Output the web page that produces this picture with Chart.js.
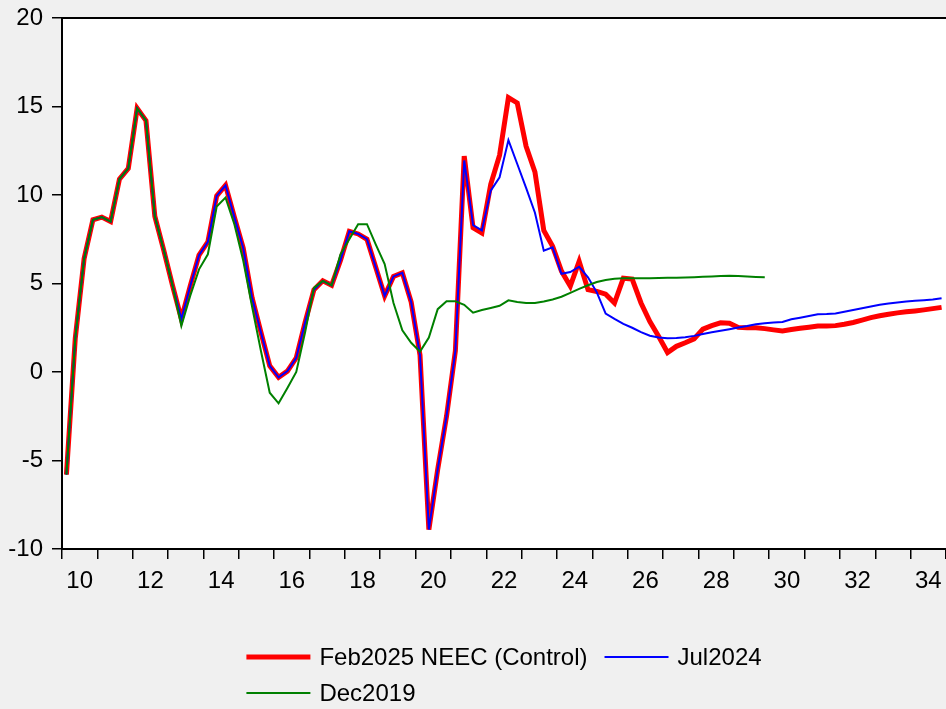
<!DOCTYPE html>
<html>
<script src="https://cdn.jsdelivr.net/npm/chart.js@4.4.0/dist/chart.umd.min.js"></script>
<body style="margin:0;background:#f0f0f0">
<canvas id="myChart" width="946" height="709"></canvas>

<script>
// quarterly periods 2010Q1 .. 2034Q4
const periods = [];
for (let y = 2010; y <= 2034; y++) {
  for (let q = 1; q <= 4; q++) periods.push(y + "Q" + q);
}

const seriesNames = ["Feb2025 NEEC (Control)", "Jul2024", "Dec2019"];

const feb2025 = [
  -5.8, 1.9, 6.4, 8.6, 8.75, 8.5, 10.9, 11.5, 14.9, 14.2,
  8.8, 6.9, 4.9, 3.0, 4.85, 6.6, 7.35, 9.95, 10.55, 8.75,
  7.0, 4.2, 2.25, 0.35, -0.3, 0.05, 0.8, 2.8, 4.65, 5.15,
  4.9, 6.3, 7.95, 7.8, 7.5, 5.9, 4.3, 5.4, 5.6, 3.95,
  0.95, -8.9, -5.5, -2.5, 1.2, 12.2, 8.15, 7.85, 10.6, 12.25,
  15.5, 15.2, 12.75, 11.3, 8.0, 7.1, 5.7, 4.85, 6.25, 4.65,
  4.55, 4.4, 3.9, 5.3, 5.25, 3.9, 2.85, 2.0, 1.1, 1.45,
  1.65, 1.87, 2.42, 2.62, 2.78, 2.76, 2.52, 2.5, 2.5, 2.45,
  2.38, 2.32, 2.4, 2.47, 2.53, 2.6, 2.6, 2.62, 2.7, 2.8,
  2.93, 3.07, 3.18, 3.26, 3.34, 3.4, 3.45, 3.51, 3.58, 3.65
];

const jul2024 = [
  -5.8, 1.9, 6.4, 8.6, 8.75, 8.5, 10.9, 11.5, 14.9, 14.2,
  8.8, 6.9, 4.9, 3.0, 4.85, 6.6, 7.35, 9.95, 10.55, 8.75,
  7.0, 4.2, 2.25, 0.35, -0.3, 0.05, 0.8, 2.8, 4.65, 5.15,
  4.9, 6.3, 7.95, 7.8, 7.5, 5.9, 4.3, 5.4, 5.6, 3.95,
  0.95, -8.9, -5.5, -2.5, 1.2, 11.95, 8.3, 8.0, 10.25, 11.0,
  13.1, 11.75, 10.4, 9.0, 6.85, 7.05, 5.55, 5.65, 5.95, 5.35,
  4.5, 3.3, 3.0, 2.72, 2.5, 2.25, 2.05, 1.95, 1.9, 1.92,
  1.96, 2.04, 2.15, 2.25, 2.33, 2.42, 2.52, 2.6, 2.7, 2.76,
  2.8, 2.83, 2.98, 3.07, 3.16, 3.26, 3.27, 3.3, 3.4, 3.5,
  3.6, 3.7, 3.8, 3.87, 3.93, 3.98, 4.02, 4.06, 4.1, 4.17
];

const dec2019 = [
  -5.8, 1.9, 6.4, 8.6, 8.75, 8.5, 10.9, 11.5, 14.9, 14.2,
  8.8, 6.9, 4.9, 2.6, 4.3, 5.8, 6.65, 9.35, 9.85, 8.35,
  6.3, 3.7, 1.2, -1.17, -1.77, -0.9, 0.0, 2.25, 4.75, 5.15,
  4.9, 6.65, 7.5, 8.35, 8.35, 7.2, 6.1, 3.9, 2.35, 1.65,
  1.15, 1.95, 3.55, 4.0, 4.0, 3.8, 3.35, 3.5, 3.62, 3.74,
  4.05, 3.96, 3.9, 3.9, 3.98, 4.1, 4.25, 4.47, 4.7, 4.9,
  5.08, 5.2, 5.27, 5.3, 5.3, 5.3, 5.3, 5.31, 5.32, 5.33,
  5.34, 5.36, 5.38, 5.4, 5.42, 5.44, 5.42, 5.39, 5.37, 5.35
];

const labelYears = [2010, 2012, 2014, 2016, 2018, 2020, 2022, 2024, 2026, 2028, 2030, 2032, 2034];

// period "2012Q3" -> middle of that quarter on a year scale
function toX(p) {
  return Number(p.slice(0, 4)) + (Number(p.slice(5)) - 0.5) / 4;
}
function points(vals) {
  return vals.map((v, i) => ({x: toX(periods[i]), y: v}));
}

const FONT = "'Liberation Sans', Arial, sans-serif";

const frame = {
  id: "frame",
  beforeDraw(chart) {
    const ctx = chart.ctx, a = chart.chartArea;
    ctx.save();
    ctx.fillStyle = "#f0f0f0";
    ctx.fillRect(0, 0, chart.width, chart.height);
    ctx.fillStyle = "#ffffff";
    ctx.fillRect(a.left, a.top, a.right - a.left, a.bottom - a.top);
    ctx.restore();
  },
  afterDraw(chart) {
    const ctx = chart.ctx, a = chart.chartArea;
    ctx.save();
    ctx.strokeStyle = "#000";
    ctx.lineWidth = 2;
    ctx.beginPath();
    ctx.moveTo(a.left - 1, a.top);
    ctx.lineTo(a.right, a.top);
    ctx.stroke();
    ctx.restore();
  }
};

// legend: two rows, second row left aligned with the first
const bottomLegend = {
  id: "bottomLegend",
  afterDraw(chart) {
    const ctx = chart.ctx, a = chart.chartArea;
    const ds = chart.data.datasets;
    ctx.save();
    ctx.font = "24px " + FONT;
    ctx.textBaseline = "middle";
    ctx.fillStyle = "#000";
    const lineLen = 64, gap = 9, itemGap = 17;
    const w = ds.map(d => ctx.measureText(d.label).width);
    const row1 = lineLen + gap + w[0] + itemGap + lineLen + gap + w[1];
    const x0 = (a.left + a.right) / 2 - row1 / 2;
    const spots = [
      [x0, 657],
      [x0 + lineLen + gap + w[0] + itemGap, 657],
      [x0, 693]
    ];
    ds.forEach((d, i) => {
      const [x, y] = spots[i];
      ctx.strokeStyle = d.borderColor;
      ctx.lineWidth = d.borderWidth;
      ctx.beginPath();
      ctx.moveTo(x, y);
      ctx.lineTo(x + lineLen, y);
      ctx.stroke();
      ctx.fillText(d.label, x + lineLen + gap, y + 1);
    });
    ctx.restore();
  }
};

new Chart("myChart", {
  type: "line",
  data: {
    datasets: [{
      label: seriesNames[0],
      data: points(feb2025),
      borderColor: "#ff0000",
      borderWidth: 5,
      pointRadius: 0,
      order: 3
    }, {
      label: seriesNames[1],
      data: points(jul2024),
      borderColor: "#0000ff",
      borderWidth: 2,
      pointRadius: 0,
      order: 2
    }, {
      label: seriesNames[2],
      data: points(dec2019),
      borderColor: "#008000",
      borderWidth: 2,
      pointRadius: 0,
      order: 1
    }]
  },
  options: {
    responsive: false,
    animation: false,
    layout: {autoPadding: false, padding: {top: 18, bottom: 110, left: 0, right: 0}},
    plugins: {
      legend: {display: false},
      tooltip: {enabled: false}
    },
    scales: {
      x: {
        type: "linear",
        min: 2010,
        max: 2035,
        afterFit: s => { s.height = 50; s.paddingRight = 0; },
        grid: {drawOnChartArea: false, drawTicks: true, tickLength: 10, color: "#000", lineWidth: 1.5},
        border: {display: true, color: "#000", width: 2},
        ticks: {
          stepSize: 1,
          autoSkip: false,
          maxRotation: 0,
          labelOffset: 17.7,
          padding: 8,
          color: "#000",
          font: {family: FONT, size: 24},
          callback: v => labelYears.includes(v) ? String(v - 2000) : ""
        }
      },
      y: {
        min: -10,
        max: 20,
        afterFit: s => { s.width = 62; s.paddingTop = 0; },
        grid: {drawOnChartArea: false, drawTicks: true, tickLength: 10, color: "#000", lineWidth: 1.5},
        border: {display: true, color: "#000", width: 2},
        ticks: {
          stepSize: 5,
          padding: 9,
          color: "#000",
          font: {family: FONT, size: 24}
        }
      }
    }
  },
  plugins: [frame, bottomLegend]
});
</script>
</body>
</html>
